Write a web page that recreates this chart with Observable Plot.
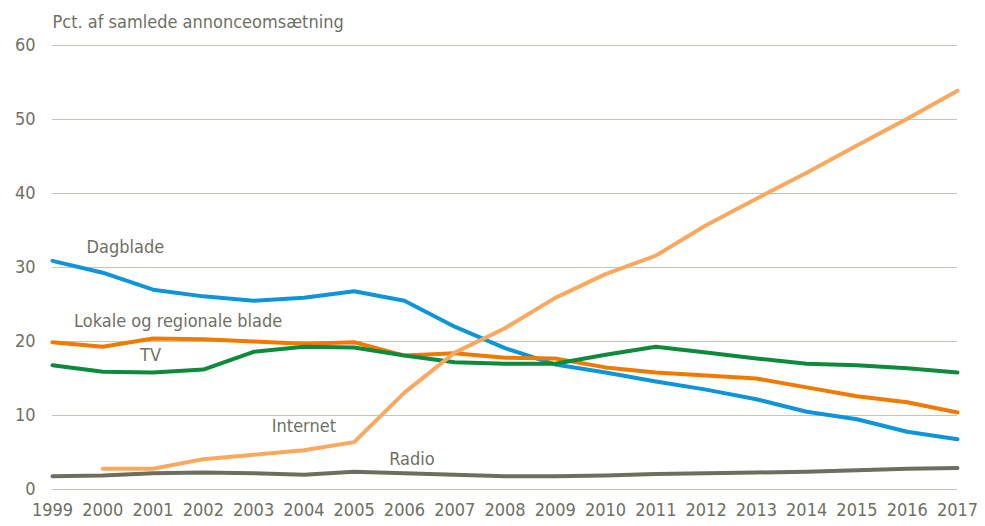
<!DOCTYPE html>
<html><head><meta charset="utf-8">
<script src="https://cdn.jsdelivr.net/npm/d3@7"></script>
<script src="https://cdn.jsdelivr.net/npm/@observablehq/plot@0.6"></script>
<style>
body{margin:0;background:#fff;}
svg{font-family:"DejaVu Sans Condensed","Liberation Sans Narrow",sans-serif;}
</style></head>
<body><div id="chart"></div>
<script>
const years = [1999,2000,2001,2002,2003,2004,2005,2006,2007,2008,2009,2010,2011,2012,2013,2014,2015,2016,2017];
const dagblade = [30.9,29.3,27.0,26.1,25.5,25.9,26.8,25.5,22.0,19.1,16.9,15.8,14.6,13.5,12.2,10.5,9.5,7.8,6.8];
const lokale = [19.9,19.3,20.4,20.3,20.0,19.7,19.9,18.1,18.4,17.8,17.7,16.5,15.8,15.4,15.0,13.8,12.6,11.8,10.4];
const tv = [16.8,15.9,15.8,16.2,18.6,19.3,19.2,18.1,17.2,17.0,17.0,18.2,19.3,18.5,17.7,17.0,16.8,16.4,15.8];
const internet = [null,2.8,2.8,4.1,4.7,5.3,6.4,13.1,18.5,21.8,25.9,29.1,31.6,35.7,39.3,42.8,46.5,50.1,53.9];
const radio = [1.8,1.9,2.2,2.3,2.2,2.0,2.4,2.2,2.0,1.8,1.8,1.9,2.1,2.2,2.3,2.4,2.6,2.8,2.9];
const seriesNames = ["Dagblade","Lokale og regionale blade","TV","Internet","Radio"];
const seriesColors = ["#0e95d9","#f07a00","#0d8a3c","#f9a85d","#6d6d60"];
const labelYears = [2000.45,2001.5,2000.95,2004.0,2006.15];
const labelValues = [32.7,22.8,18.1,8.6,4.05];
const yTicks = [0,10,20,30,40,50,60];
const title = "Pct. af samlede annonceomsætning";

const allSeries = [dagblade, lokale, tv, internet, radio];
const data = [];
allSeries.forEach((vals, i) => vals.forEach((v, j) => { if (v != null) data.push({series: seriesNames[i], year: years[j], value: v}); }));
const labels = seriesNames.map((s, i) => ({series: s, year: labelYears[i], value: labelValues[i]}));
const textColor = "#6f6f63";

const chart = Plot.plot({
  width: 985, height: 526,
  marginLeft: 52, marginRight: 28, marginTop: 45, marginBottom: 37,
  style: {fontSize: "18px", color: textColor, fontFamily: '"DejaVu Sans Condensed","Liberation Sans Narrow",sans-serif', background: "#fff"},
  x: {domain: [1999, 2017], label: null, ticks: years, tickFormat: d => String(d), tickSize: 0, tickPadding: 14},
  y: {domain: [0, 60], label: null, ticks: yTicks, tickSize: 0, tickPadding: 17},
  color: {domain: seriesNames, range: seriesColors},
  marks: [
    Plot.gridY(yTicks, {stroke: "#c4c4b8", strokeOpacity: 1, strokeWidth: 1.2}),
    Plot.axisX({ticks: years, tickFormat: d => String(d), tickSize: 0, tickPadding: 14, fill: textColor, fontSize: 18}),
    Plot.axisY({ticks: yTicks, tickSize: 0, tickPadding: 17, fill: textColor, fontSize: 18}),
    Plot.line(data, {x: "year", y: "value", z: "series", stroke: "series", strokeWidth: 4, strokeLinejoin: "round", strokeLinecap: "round"}),
    Plot.text(labels, {x: "year", y: "value", text: "series", fill: textColor, fontSize: 18}),
    Plot.text([title], {frameAnchor: "top-left", dy: -30, text: d => d, fill: textColor, fontSize: 18, textAnchor: "start"})
  ]
});
document.getElementById("chart").appendChild(chart);
</script></body></html>
